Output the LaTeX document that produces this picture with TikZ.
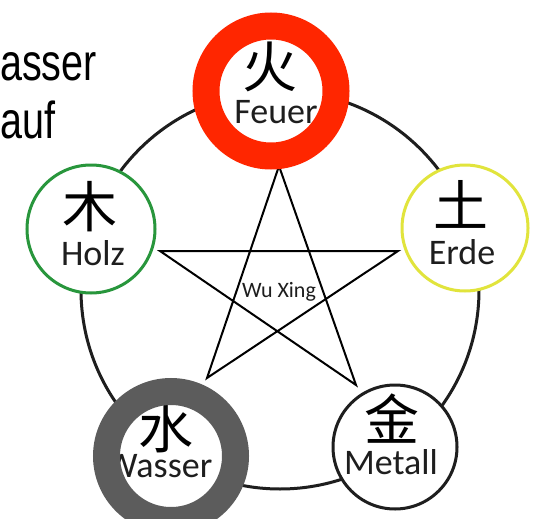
\documentclass[tikz,border=0pt]{standalone}
\usepackage{fontspec}
\newfontfamily\cjk{Noto Sans CJK SC}
\newfontfamily\hand{Carlito}
\newfontfamily\helv{Liberation Sans}
\definecolor{feuercol}{RGB}{255,38,0}
\definecolor{wassercol}{RGB}{92,92,92}
\definecolor{holzcol}{RGB}{40,150,60}
\definecolor{erdecol}{RGB}{225,228,60}
\definecolor{inkcol}{RGB}{30,30,30}
\begin{document}
\begin{tikzpicture}[x=1pt,y=-1pt,
  elem/.style={circle, fill=white, inner sep=0pt, minimum size=#1},
  outline/.style={draw, line width=3pt},
  ring/.style={line width=27pt},
  cjkchar/.style={font=\cjk\fontsize{55}{55}\selectfont, inner sep=0pt, text=black},
  lbl/.style={font=\hand\fontsize{36}{36}\selectfont, inner sep=0pt, text=inkcol},
  starline/.style={draw=black, line width=2pt},
  bigtext/.style={font=\helv\fontsize{52}{52}\selectfont, inner sep=0pt, anchor=base west, text=black}]
\useasboundingbox (0,0) rectangle (546,519);
\fill[white] (0,0) rectangle (546,519);
% top-left text fragments
\node[bigtext] (t1) at (0,81) {\scalebox{0.76}[1]{asser}};
\node[bigtext] (t2) at (0,138) {\scalebox{0.76}[1]{auf}};
% big circle
\coordinate (C) at (280,290);
\draw[line width=3pt, inkcol] (C) circle (199pt);
% pentagram
\coordinate (T) at (279,166);
\coordinate (L) at (160,251);
\coordinate (R) at (398,251);
\coordinate (BL) at (207,378);
\coordinate (BR) at (356,385);
\draw[starline] (T) -- (BL) -- (R) -- (L) -- (BR) -- cycle;
\node[font=\hand\fontsize{22}{22}\selectfont, inner sep=0pt, text=inkcol] (wx) at (279,292) {Wu Xing};
% element circles
\node[elem=130pt] (feuer) at (271,91) {};
\node[elem=126pt, outline, draw=erdecol] (erde) at (465,228) {};
\node[elem=128pt, outline, draw=holzcol] (holz) at (91,229) {};
\node[elem=130pt] (wasser) at (171,456) {};
\node[elem=124pt, outline, draw=inkcol] (metall) at (395,447) {};
% characters and labels
\node[cjkchar] (feuerc) at (270,67) {火};
\node[lbl] (feuerl) at (276,112) {Feuer};
\node[cjkchar] (erdec) at (461,204) {土};
\node[lbl] (erdel) at (462,252) {Erde};
\node[cjkchar] (holzc) at (90,207) {木};
\node[lbl] (holzl) at (93,253) {Holz};
\node[cjkchar] (metallc) at (392,419) {金};
\node[lbl] (metalll) at (391,462) {Metall};
\node[cjkchar] (wasserc) at (166,428) {水};
\node[lbl] (wasserl) at (159,466) {Wasser};
% thick rings
\draw[ring, feuercol] (feuer.center) circle (65pt);
\draw[ring, wassercol] (wasser.center) circle (64.5pt);
\end{tikzpicture}
\end{document}
